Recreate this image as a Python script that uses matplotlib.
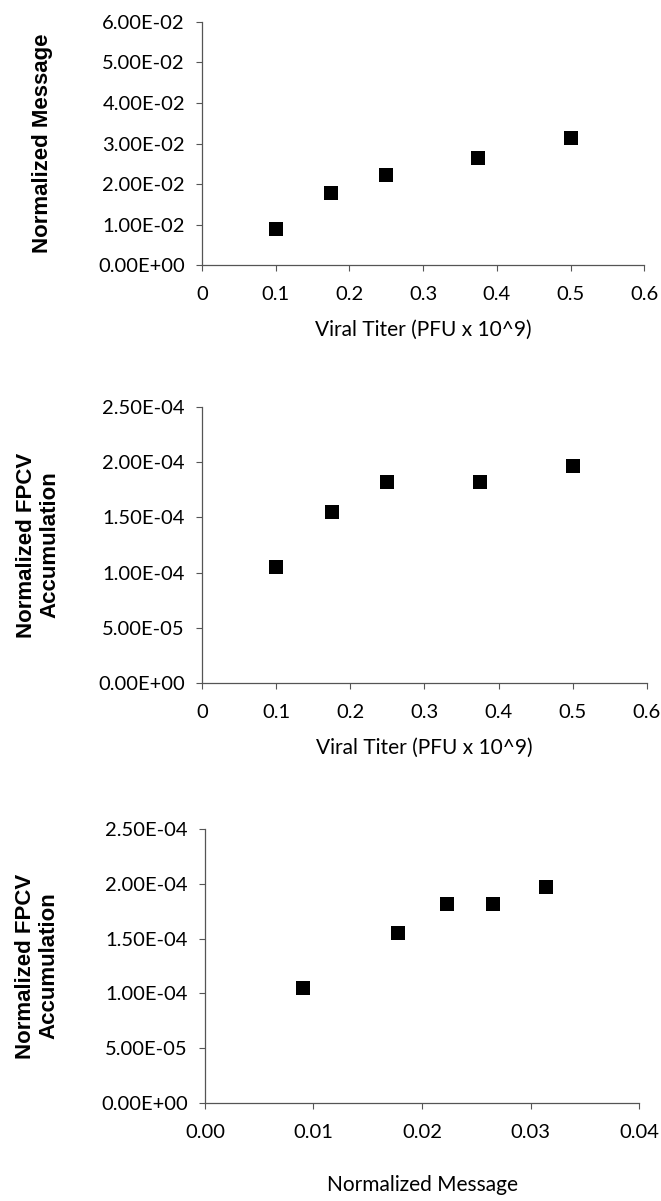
' Viral titer vs message vs FPCV accumulation, three stacked scatter panels. '

import matplotlib
matplotlib.use('Agg')
import matplotlib.pyplot as plt
from matplotlib.ticker import FuncFormatter, MultipleLocator

titer = [0.1, 0.175, 0.25, 0.375, 0.5]
message = [0.0090, 0.0178, 0.0223, 0.0265, 0.0314]
fpcv = [1.05e-4, 1.55e-4, 1.82e-4, 1.82e-4, 1.97e-4]

TICK_FONT = 'Lato'
LABEL_FONT = 'Liberation Sans'


def sci_fmt(v, _pos):
    return f'{v:.2E}'


def style_axes(ax):
    for side in ('top', 'right'):
        ax.spines[side].set_visible(False)
    for side in ('left', 'bottom'):
        ax.spines[side].set_color('#555555')
        ax.spines[side].set_linewidth(0.9)
    ax.tick_params(direction='out', length=4.3, width=0.8, color='#555555',
                   labelsize=14.5)
    ax.tick_params(axis='x', pad=11)
    ax.tick_params(axis='y', pad=8)
    for lbl in ax.get_xticklabels() + ax.get_yticklabels():
        lbl.set_fontfamily(TICK_FONT)
    ax.yaxis.set_major_formatter(FuncFormatter(sci_fmt))


def scatter(ax, x, y):
    ax.plot(x, y, 's', color='black', markersize=10.5, markeredgewidth=0)


def main():
    fig = plt.figure(figsize=(6.61, 12.01), dpi=100)

    # panel 1: message vs titer
    ax1 = fig.add_axes([0.3056, 0.7793, 0.669, 0.2024])
    scatter(ax1, titer, message)
    ax1.set_xlim(0, 0.6)
    ax1.set_ylim(0, 0.06)
    ax1.xaxis.set_major_locator(MultipleLocator(0.1))
    ax1.yaxis.set_major_locator(MultipleLocator(0.01))
    ax1.xaxis.set_major_formatter(FuncFormatter(lambda v, p: f'{v:g}'))
    style_axes(ax1)
    ax1.set_xlabel('Viral Titer (PFU x 10^9)', fontsize=15, fontfamily=TICK_FONT, labelpad=12)
    ax1.set_ylabel('Normalized Message', fontsize=16, fontweight='bold',
                   fontfamily=LABEL_FONT)
    ax1.yaxis.set_label_coords(-0.337, 0.5)

    # panel 2: FPCV vs titer
    ax2 = fig.add_axes([0.3056, 0.4313, 0.673, 0.2298])
    scatter(ax2, titer, fpcv)
    ax2.set_xlim(0, 0.6)
    ax2.set_ylim(0, 2.5e-4)
    ax2.xaxis.set_major_locator(MultipleLocator(0.1))
    ax2.yaxis.set_major_locator(MultipleLocator(5e-5))
    ax2.xaxis.set_major_formatter(FuncFormatter(lambda v, p: f'{v:g}'))
    style_axes(ax2)
    ax2.set_xlabel('Viral Titer (PFU x 10^9)', fontsize=15, fontfamily=TICK_FONT, labelpad=12)
    ax2.set_ylabel('Normalized FPCV\nAccumulation', fontsize=16, fontweight='bold',
                   fontfamily=LABEL_FONT, linespacing=1.12)
    ax2.yaxis.set_label_coords(-0.319, 0.5)

    # panel 3: FPCV vs message
    ax3 = fig.add_axes([0.310, 0.0816, 0.657, 0.2281])
    scatter(ax3, message, fpcv)
    ax3.set_xlim(0, 0.04)
    ax3.set_ylim(0, 2.5e-4)
    ax3.xaxis.set_major_locator(MultipleLocator(0.01))
    ax3.yaxis.set_major_locator(MultipleLocator(5e-5))
    ax3.xaxis.set_major_formatter(FuncFormatter(lambda v, p: f'{v:.2f}'))
    style_axes(ax3)
    ax3.set_xlabel('Normalized Message', fontsize=15, fontfamily=TICK_FONT, labelpad=24)
    ax3.set_ylabel('Normalized FPCV\nAccumulation', fontsize=16, fontweight='bold',
                   fontfamily=LABEL_FONT, linespacing=1.12)
    ax3.yaxis.set_label_coords(-0.336, 0.5)

    fig.savefig('out.png', dpi=100)


if __name__ == '__main__':
    main()
